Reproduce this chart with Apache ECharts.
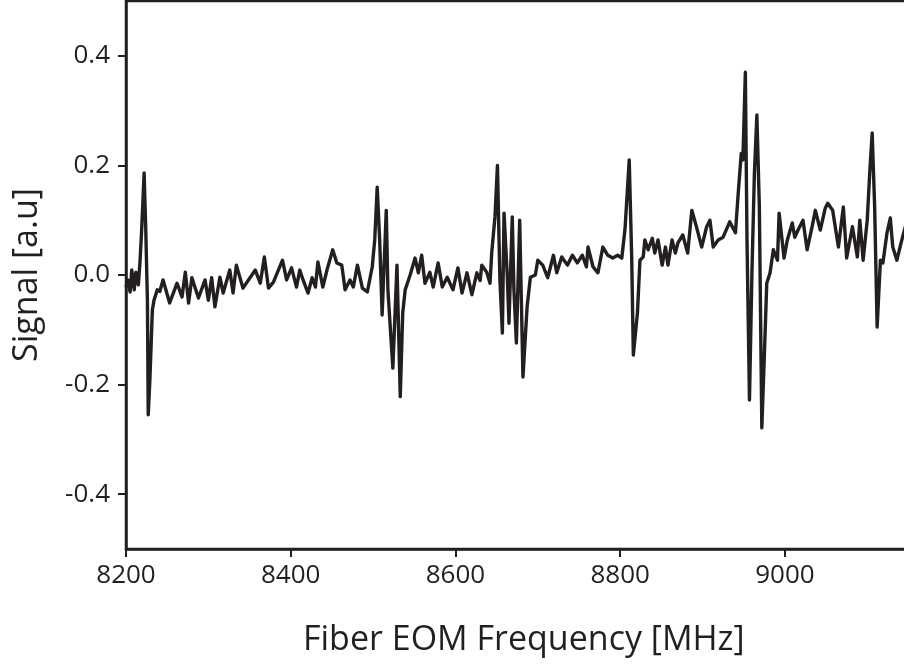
<!DOCTYPE html>
<html>
<head>
<meta charset="utf-8">
<script src="https://cdn.jsdelivr.net/npm/echarts@6/dist/echarts.min.js"></script>
<style>
html,body{margin:0;padding:0;background:#fff;}
#main{width:904px;height:668px;}
</style>
</head>
<body>
<div id="main"></div>
<script>
// frequency [MHz]
var freq = [
  8200,8202,8205,8207,8210,8212,8215,8217,8219,8222,8224,8226,8227,8229,8232,8234,8238,8241,8245,8253,
  8262,8268,8272,8276,8280,8288,8296,8300,8304,8308,8314,8318,8326,8330,8334,8342,8351,8357,8363,8368,
  8373,8379,8390,8395,8401,8407,8411,8415,8421,8426,8430,8433,8439,8444,8451,8456,8462,8466,8472,8476,
  8481,8487,8493,8499,8502,8505,8508,8511,8516,8518,8524,8529,8533,8536,8539,8545,8551,8555,8559,8563,
  8569,8573,8579,8584,8590,8597,8603,8608,8614,8620,8626,8630,8632,8638,8642,8644,8648,8651,8654,8657,
  8659,8663,8665,8669,8671,8674,8678,8682,8687,8691,8697,8700,8706,8712,8719,8723,8729,8736,8742,8748,
  8754,8759,8761,8767,8773,8779,8785,8791,8797,8802,8806,8811,8814,8816,8821,8824,8828,8830,8834,8839,
  8842,8846,8851,8855,8858,8863,8867,8870,8876,8882,8887,8893,8899,8905,8909,8913,8919,8925,8933,8940,
  8943,8947,8949,8952,8954,8957,8960,8963,8966,8969,8972,8975,8978,8982,8986,8991,8993,8999,9003,9009,
  9012,9016,9022,9027,9033,9037,9043,9049,9052,9058,9065,9071,9075,9082,9088,9091,9095,9100,9103,9106,
  9109,9112,9116,9119,9124,9128,9131,9136,9142,9150
];
// signal [a.u]
var signal = [
  -0.022,-0.009,-0.031,0.009,-0.027,0.005,-0.018,0.024,0.082,0.186,0.082,-0.046,-0.255,-0.191,-0.064,-0.046,-0.027,-0.03,-0.009,-0.051,
  -0.015,-0.040,0.005,-0.051,-0.005,-0.042,-0.009,-0.046,-0.005,-0.058,-0.004,-0.033,0.009,-0.033,0.018,-0.024,-0.004,0.009,-0.015,0.033,
  -0.024,-0.013,0.027,-0.009,0.013,-0.022,0.009,-0.009,-0.033,-0.005,-0.022,0.024,-0.022,0.009,0.046,0.022,0.018,-0.027,-0.009,-0.022,
  0.018,-0.024,-0.031,0.015,0.064,0.160,0.064,-0.073,0.118,-0.027,-0.170,0.018,-0.222,-0.069,-0.027,0.000,0.031,0.004,0.036,-0.015,
  0.005,-0.022,0.022,-0.022,-0.004,-0.027,0.013,-0.033,0.004,-0.036,0.004,-0.010,0.018,0.005,-0.015,0.040,0.106,0.200,-0.009,-0.106,
  0.113,-0.004,-0.088,0.106,-0.027,-0.124,0.100,-0.186,-0.058,-0.004,0.000,0.027,0.018,-0.005,0.036,0.004,0.033,0.018,0.036,0.022,
  0.036,0.015,0.051,0.015,0.004,0.051,0.036,0.031,0.036,0.031,0.086,0.210,0.033,-0.146,-0.069,0.027,0.033,0.064,0.046,0.067,
  0.040,0.064,0.018,0.051,0.018,0.064,0.040,0.058,0.073,0.040,0.118,0.086,0.051,0.088,0.100,0.051,0.064,0.069,0.097,0.077,
  0.142,0.222,0.210,0.370,0.064,-0.228,0.004,0.186,0.292,0.124,-0.279,-0.150,-0.015,0.004,0.046,0.027,0.113,0.031,0.064,0.095,
  0.069,0.082,0.100,0.046,0.088,0.118,0.082,0.122,0.131,0.118,0.051,0.124,0.031,0.088,0.033,0.100,0.027,0.100,0.186,0.259,
  0.124,-0.095,0.027,0.022,0.077,0.104,0.051,0.027,0.064,0.109
];
var xTicks = [8200, 8400, 8600, 8800, 9000];
var yTicks = [-0.4, -0.2, 0.0, 0.2, 0.4];

var ink = '#231f20';
var pts = [];
for (var i = 0; i < freq.length; i++) {
  pts.push([freq[i], signal[i]]);
}

var chart = echarts.init(document.getElementById('main'), null, {renderer: 'canvas'});
var option = {
  animation: false,
  backgroundColor: '#fff',
  textStyle: {fontFamily: 'Open Sans'},
  grid: {
    left: 126, top: 1, width: 823.6, height: 548,
    containLabel: false,
    outerBoundsMode: 'none',   // let the plot run past the right edge like the original crop
    show: true, borderColor: ink, borderWidth: 2.5
  },
  xAxis: {
    type: 'value',
    min: 8200, max: 9200, interval: 200,
    name: 'Fiber EOM Frequency [MHz]',
    nameLocation: 'middle',
    nameGap: 74,
    nameTextStyle: {fontSize: 34, color: ink, padding: [0, 28, 0, 0]},
    axisLine: {show: true, onZero: false, lineStyle: {color: ink, width: 2.5}},
    axisTick: {show: true, inside: false, length: 8, lineStyle: {color: ink, width: 2}, customValues: xTicks},
    axisLabel: {
      fontSize: 26, color: ink, margin: 14, customValues: xTicks,
      formatter: function (v) { return String(v); }
    },
    splitLine: {show: false}
  },
  yAxis: {
    type: 'value',
    min: -0.5, max: 0.5, interval: 0.1,
    name: 'Signal [a.u]',
    nameLocation: 'middle',
    nameGap: 82,
    nameTextStyle: {fontSize: 34, color: ink},
    axisLine: {show: true, onZero: false, lineStyle: {color: ink, width: 2.5}},
    axisTick: {show: true, inside: false, length: 8, lineStyle: {color: ink, width: 2}, customValues: yTicks},
    axisLabel: {
      fontSize: 26, color: ink, margin: 16, customValues: yTicks,
      formatter: function (v) { return v.toFixed(1); }
    },
    splitLine: {show: false}
  },
  series: [{
    type: 'line',
    data: pts,
    showSymbol: false,
    lineStyle: {color: ink, width: 3.4, join: 'round'},
    clip: true
  }]
};
chart.setOption(option);
</script>
</body>
</html>
